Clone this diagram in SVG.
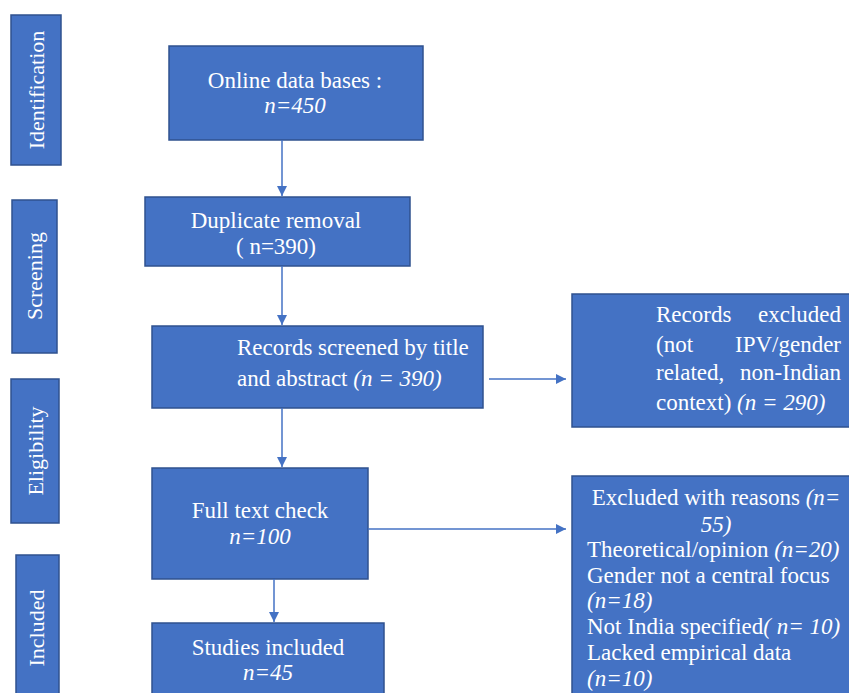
<svg xmlns="http://www.w3.org/2000/svg" width="849" height="693" viewBox="0 0 849 693">
<style>
.box{fill:#4472C4;stroke:#2F528F;stroke-width:1.5}
.t{font-family:"Liberation Serif","Times New Roman","DejaVu Serif",serif;font-size:23px;fill:#ffffff}
.s{font-family:"Liberation Serif","Times New Roman","DejaVu Serif",serif;font-size:22px;fill:#ffffff}
.c{text-anchor:middle}
.e{text-anchor:end}
.i{font-style:italic}
.ln{stroke:#4472C4;stroke-width:1.5;fill:none}
</style>
<defs>
<marker id="ah" viewBox="0 0 10 10" refX="10" refY="5" markerWidth="7" markerHeight="7" orient="auto" markerUnits="strokeWidth">
<path d="M0,0 L10,5 L0,10 z" fill="#4472C4"/>
</marker>
</defs>
<g id="phase-identification">
<rect class="box" x="11" y="15" width="50" height="150"/>
<text class="s c" transform="translate(44,90) rotate(-90)">Identification</text>
</g>
<g id="phase-screening">
<rect class="box" x="12" y="200" width="45" height="153"/>
<text class="s c" transform="translate(42,276) rotate(-90)">Screening</text>
</g>
<g id="phase-eligibility">
<rect class="box" x="11" y="379" width="48" height="144"/>
<text class="s c" transform="translate(43,451) rotate(-90)">Eligibility</text>
</g>
<g id="phase-included">
<rect class="box" x="16" y="555" width="43" height="145"/>
<text class="s c" transform="translate(44,628) rotate(-90)">Included</text>
</g>
<g id="online">
<rect class="box" x="169" y="46" width="254" height="94"/>
<text class="t c" x="295" y="88">Online data bases :</text>
<text class="t c i" x="295" y="113">n=450</text>
</g>
<g id="duplicate">
<rect class="box" x="145" y="197" width="265" height="69"/>
<text class="t c" x="276" y="228">Duplicate removal</text>
<text class="t c" x="276" y="254">( n=390)</text>
</g>
<g id="screened">
<rect class="box" x="152" y="326" width="331" height="82"/>
<text class="t" x="237" y="355">Records screened by title</text>
<text class="t" x="237" y="386">and abstract <tspan class="i">(n = 390)</tspan></text>
</g>
<g id="fulltext">
<rect class="box" x="152" y="468" width="216" height="111"/>
<text class="t c" x="260" y="518">Full text check</text>
<text class="t c i" x="260" y="544">n=100</text>
</g>
<g id="included">
<rect class="box" x="152" y="623" width="232" height="80"/>
<text class="t c" x="268" y="655">Studies included</text>
<text class="t c i" x="268" y="680">n=45</text>
</g>
<g id="excluded1">
<rect class="box" x="572" y="294" width="285" height="133"/>
<text class="t" x="656" y="322">Records</text>
<text class="t e" x="841" y="322">excluded</text>
<text class="t" x="656" y="352">(not</text>
<text class="t e" x="841" y="352">IPV/gender</text>
<text class="t" x="656" y="380">related,</text>
<text class="t e" x="841" y="380">non-Indian</text>
<text class="t" x="656" y="410">context) <tspan class="i">(n = 290)</tspan></text>
</g>
<g id="excluded2">
<rect class="box" x="572" y="476" width="285" height="230"/>
<text class="t c" x="716" y="505">Excluded with reasons <tspan class="i">(n=</tspan></text>
<text class="t c i" x="716" y="532">55)</text>
<text class="t" x="587" y="557">Theoretical/opinion <tspan class="i">(n=20)</tspan></text>
<text class="t" x="587" y="583">Gender not a central focus</text>
<text class="t i" x="587" y="608">(n=18)</text>
<text class="t" x="587" y="634">Not India specified<tspan class="i">( n= 10)</tspan></text>
<text class="t" x="587" y="660">Lacked empirical data</text>
<text class="t i" x="587" y="686">(n=10)</text>
</g>
<g id="connectors">
<line class="ln" x1="282" y1="140" x2="282" y2="196" marker-end="url(#ah)"/>
<line class="ln" x1="282" y1="266" x2="282" y2="325" marker-end="url(#ah)"/>
<line class="ln" x1="282" y1="408" x2="282" y2="467" marker-end="url(#ah)"/>
<line class="ln" x1="274" y1="579" x2="274" y2="622" marker-end="url(#ah)"/>
<line class="ln" x1="489" y1="379" x2="566" y2="379" marker-end="url(#ah)"/>
<line class="ln" x1="368" y1="529" x2="566" y2="529" marker-end="url(#ah)"/>
</g>
</svg>
